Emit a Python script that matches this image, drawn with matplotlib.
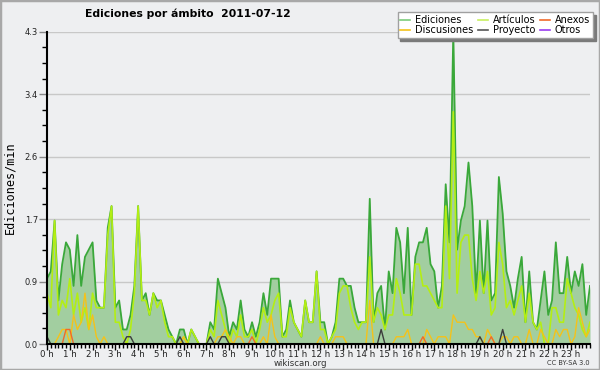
import numpy as np
import matplotlib
matplotlib.use("Agg")
import matplotlib.pyplot as plt
from matplotlib.patches import Rectangle
from matplotlib.lines import Line2D

# edits per minute, one value per 10 minutes (144 slots)
ediciones = [
    0.9, 1.0, 1.7, 0.6, 1.1, 1.4, 1.3, 0.8, 1.5, 0.8, 1.2, 1.3,
    1.4, 0.6, 0.5, 0.5, 1.6, 1.9, 0.5, 0.6, 0.2, 0.2, 0.4, 0.8,
    1.9, 0.6, 0.7, 0.4, 0.7, 0.6, 0.6, 0.4, 0.2, 0.1, 0.0, 0.2,
    0.2, 0.0, 0.2, 0.1, 0.0, 0.0, 0.0, 0.3, 0.2, 0.9, 0.7, 0.5,
    0.1, 0.3, 0.2, 0.6, 0.2, 0.1, 0.3, 0.1, 0.3, 0.7, 0.4, 0.9,
    0.9, 0.9, 0.1, 0.2, 0.6, 0.3, 0.2, 0.1, 0.6, 0.3, 0.3, 1.0,
    0.3, 0.3, 0.0, 0.1, 0.3, 0.9, 0.9, 0.8, 0.8, 0.5, 0.3, 0.3,
    0.3, 2.0, 0.3, 0.7, 0.8, 0.2, 1.0, 0.7, 1.6, 1.4, 0.7, 1.6,
    0.4, 1.2, 1.4, 1.4, 1.6, 1.1, 1.0, 0.5, 0.8, 2.2, 1.4, 4.3,
    1.3, 1.7, 1.9, 2.5, 1.9, 0.7, 1.7, 0.7, 1.7, 0.6, 0.7, 2.3,
    1.8, 1.0, 0.8, 0.5, 0.9, 1.2, 0.3, 1.0, 0.3, 0.2, 0.6, 1.0,
    0.4, 0.6, 1.4, 0.7, 0.7, 1.2, 0.7, 1.0, 0.8, 1.1, 0.4, 0.8,
]
articulos = [
    0.7, 0.5, 1.7, 0.4, 0.6, 0.5, 0.9, 0.4, 0.7, 0.3, 0.5, 0.2,
    0.7, 0.5, 0.5, 0.5, 1.5, 1.9, 0.3, 0.3, 0.1, 0.0, 0.2, 0.7,
    1.9, 0.6, 0.6, 0.4, 0.7, 0.5, 0.6, 0.3, 0.1, 0.1, 0.0, 0.0,
    0.1, 0.0, 0.2, 0.1, 0.0, 0.0, 0.0, 0.2, 0.1, 0.6, 0.4, 0.2,
    0.0, 0.2, 0.1, 0.4, 0.1, 0.1, 0.2, 0.0, 0.2, 0.5, 0.3, 0.4,
    0.6, 0.7, 0.1, 0.1, 0.5, 0.3, 0.2, 0.1, 0.6, 0.3, 0.3, 1.0,
    0.2, 0.2, 0.0, 0.1, 0.2, 0.7, 0.8, 0.8, 0.5, 0.3, 0.2, 0.3,
    0.3, 1.2, 0.3, 0.5, 0.4, 0.2, 0.4, 0.4, 0.9, 0.7, 0.4, 0.4,
    0.4, 1.1, 1.1, 0.8, 0.8, 0.7, 0.6, 0.5, 0.5, 1.9, 0.9, 3.2,
    0.7, 1.4, 1.5, 1.5, 0.9, 0.6, 1.0, 0.7, 1.0, 0.4, 0.5, 1.4,
    1.1, 0.5, 0.6, 0.4, 0.6, 0.8, 0.3, 0.7, 0.3, 0.2, 0.3, 0.0,
    0.0, 0.5, 0.5, 0.3, 0.3, 0.9, 0.7, 0.5, 0.4, 0.2, 0.1, 0.3,
]
discusiones = [
    0.0, 0.0, 0.0, 0.1, 0.2, 0.2, 0.0, 0.4, 0.2, 0.3, 0.7, 0.2,
    0.4, 0.1, 0.0, 0.1, 0.0, 0.0, 0.0, 0.0, 0.0, 0.0, 0.0, 0.0,
    0.0, 0.0, 0.0, 0.0, 0.0, 0.0, 0.0, 0.0, 0.0, 0.0, 0.0, 0.0,
    0.1, 0.0, 0.0, 0.0, 0.0, 0.0, 0.0, 0.0, 0.0, 0.1, 0.1, 0.2,
    0.1, 0.0, 0.1, 0.1, 0.0, 0.0, 0.0, 0.0, 0.0, 0.1, 0.0, 0.4,
    0.1, 0.0, 0.0, 0.0, 0.0, 0.0, 0.0, 0.0, 0.0, 0.0, 0.0, 0.0,
    0.1, 0.0, 0.0, 0.0, 0.1, 0.1, 0.1, 0.0, 0.0, 0.0, 0.0, 0.0,
    0.0, 0.6, 0.0, 0.0, 0.0, 0.0, 0.0, 0.0, 0.1, 0.1, 0.1, 0.2,
    0.0, 0.0, 0.0, 0.0, 0.2, 0.1, 0.0, 0.1, 0.1, 0.1, 0.0, 0.4,
    0.3, 0.3, 0.3, 0.2, 0.2, 0.1, 0.1, 0.0, 0.2, 0.1, 0.0, 0.0,
    0.1, 0.1, 0.0, 0.1, 0.1, 0.0, 0.0, 0.2, 0.0, 0.0, 0.2, 0.1,
    0.0, 0.0, 0.2, 0.1, 0.2, 0.2, 0.0, 0.1, 0.5, 0.3, 0.1, 0.2,
]
proyecto = [
    0.1, 0.0, 0.0, 0.0, 0.0, 0.0, 0.0, 0.0, 0.0, 0.0, 0.0, 0.0,
    0.0, 0.0, 0.0, 0.0, 0.0, 0.0, 0.0, 0.0, 0.0, 0.1, 0.1, 0.0,
    0.0, 0.0, 0.0, 0.0, 0.0, 0.0, 0.0, 0.0, 0.0, 0.0, 0.0, 0.1,
    0.0, 0.0, 0.0, 0.0, 0.0, 0.0, 0.0, 0.1, 0.0, 0.0, 0.1, 0.1,
    0.0, 0.0, 0.0, 0.0, 0.0, 0.0, 0.0, 0.0, 0.0, 0.0, 0.0, 0.0,
    0.0, 0.0, 0.0, 0.0, 0.0, 0.0, 0.0, 0.0, 0.0, 0.0, 0.0, 0.0,
    0.0, 0.0, 0.0, 0.0, 0.0, 0.0, 0.0, 0.0, 0.0, 0.0, 0.0, 0.0,
    0.0, 0.0, 0.0, 0.0, 0.2, 0.0, 0.0, 0.0, 0.0, 0.0, 0.0, 0.0,
    0.0, 0.0, 0.0, 0.0, 0.0, 0.0, 0.0, 0.0, 0.0, 0.0, 0.0, 0.0,
    0.0, 0.0, 0.0, 0.0, 0.0, 0.0, 0.1, 0.0, 0.0, 0.0, 0.0, 0.0,
    0.2, 0.0, 0.0, 0.0, 0.0, 0.0, 0.0, 0.0, 0.0, 0.0, 0.0, 0.0,
    0.0, 0.0, 0.0, 0.0, 0.0, 0.0, 0.0, 0.0, 0.0, 0.0, 0.0, 0.0,
]
anexos = [
    0.0, 0.0, 0.0, 0.0, 0.0, 0.2, 0.2, 0.0, 0.0, 0.0, 0.0, 0.0,
    0.0, 0.0, 0.0, 0.0, 0.0, 0.0, 0.0, 0.0, 0.0, 0.0, 0.0, 0.0,
    0.0, 0.0, 0.0, 0.0, 0.0, 0.0, 0.0, 0.0, 0.0, 0.0, 0.0, 0.0,
    0.0, 0.0, 0.0, 0.0, 0.0, 0.0, 0.0, 0.0, 0.0, 0.0, 0.0, 0.0,
    0.0, 0.0, 0.0, 0.0, 0.0, 0.0, 0.1, 0.0, 0.0, 0.0, 0.0, 0.0,
    0.0, 0.0, 0.0, 0.0, 0.0, 0.0, 0.0, 0.0, 0.0, 0.0, 0.0, 0.0,
    0.0, 0.0, 0.0, 0.0, 0.0, 0.0, 0.0, 0.0, 0.0, 0.0, 0.0, 0.0,
    0.0, 0.0, 0.0, 0.0, 0.0, 0.0, 0.0, 0.0, 0.0, 0.0, 0.0, 0.0,
    0.0, 0.0, 0.0, 0.1, 0.0, 0.0, 0.0, 0.0, 0.0, 0.0, 0.0, 0.0,
    0.0, 0.0, 0.0, 0.0, 0.0, 0.0, 0.0, 0.0, 0.0, 0.1, 0.0, 0.0,
    0.0, 0.0, 0.0, 0.0, 0.0, 0.0, 0.0, 0.0, 0.0, 0.0, 0.0, 0.0,
    0.0, 0.0, 0.0, 0.0, 0.0, 0.0, 0.0, 0.0, 0.0, 0.0, 0.0, 0.0,
]
otros = [0.0] * 144

hour_labels = ["{} h".format(h) for h in range(24)]
y_max = 4.3

BG = "#eeeff1"
GREEN = "#3aa83a"
GREEN_FILL = "#a2cea0"
LIME = "#b4ee14"
GOLD = "#f4c21a"
ANEX = "#f06a2a"
PROY = "#3c3c3c"
OTROS = "#9a3cf0"

fig = plt.figure(figsize=(6, 3.7), dpi=100, facecolor=BG)
ax = fig.add_axes([47 / 600, 1 - 344 / 370, 543 / 600, (344 - 31.8) / 370])
ax.set_facecolor(BG)

x = np.arange(len(ediciones))
ax.fill_between(x, 0, ediciones, color=GREEN_FILL, lw=0, zorder=2)
ax.plot(x, ediciones, color=GREEN, lw=1.3, zorder=3)
ax.plot(x, articulos, color=LIME, lw=1.2, zorder=4)
ax.plot(x, discusiones, color=GOLD, lw=1.0, zorder=5)
ax.plot(x, anexos, color=ANEX, lw=1.0, zorder=6)
ax.plot(x, proyecto, color=PROY, lw=1.0, zorder=6)
ax.plot(x, otros, color=OTROS, lw=0.0, zorder=1)

ax.set_xlim(0, 143)
ax.set_ylim(0, y_max)

yt = np.linspace(0, y_max, 6)
ax.set_yticks(yt)
ax.set_yticklabels(["{:.1f}".format(v) for v in yt])
ax.set_yticks(np.linspace(0, y_max, 21), minor=True)
ax.set_xticks(np.arange(0, 144, 6))
ax.set_xticklabels(hour_labels)
ax.set_xticks(np.arange(0, 144, 1), minor=True)

ax.grid(axis="y", color="#c8c8c8", lw=1.0, zorder=0)
for s in ["top", "right"]:
    ax.spines[s].set_visible(False)
for s in ["left", "bottom"]:
    ax.spines[s].set_linewidth(1.5)
    ax.spines[s].set_zorder(7)

ax.tick_params(axis="y", which="major", length=6, width=1, labelsize=6, pad=0.5, color="#888888")
ax.tick_params(axis="y", which="minor", length=3.5, width=1, color="black")
ax.tick_params(axis="x", which="major", length=4, width=1, labelsize=6.2, pad=0)
ax.tick_params(axis="x", which="minor", length=3, width=1)
for lab in ax.get_xticklabels() + ax.get_yticklabels():
    lab.set_color("#222222")

fig.text(188 / 600, 1 - 14 / 370, "Ediciones por ámbito  2011-07-12",
         ha="center", va="center", fontsize=7.8, fontweight="bold")
fig.text(10 / 600, 1 - 188 / 370, "Ediciones/min", rotation=90, ha="center",
         va="center", fontsize=8.5, family="DejaVu Sans Mono")
fig.text(300 / 600, 1 - 363 / 370, "wikiscan.org", ha="center", va="center", fontsize=6.2, color="#333333")
fig.text(590 / 600, 1 - 363 / 370, "CC BY-SA 3.0", ha="right", va="center", fontsize=4.8, color="#333333")

handles = [Line2D([], [], color=c, lw=1.2) for c in
           ["#7ccc7c", GOLD, "#c8f060", "#555555", ANEX, OTROS]]
labels = ["Ediciones", "Discusiones", "Artículos", "Proyecto", "Anexos", "Otros"]
leg = fig.legend(handles, labels, ncol=3, loc="upper right",
                 bbox_to_anchor=(593 / 600, 1 - 12 / 370), fontsize=7,
                 frameon=True, fancybox=False,
                 shadow={"color": "#7a7a7a", "alpha": 1},
                 edgecolor="#a0a0a0", facecolor="white", framealpha=1,
                 handlelength=1.0, handletextpad=0.5, columnspacing=0.5,
                 labelspacing=0.0, borderpad=0.3, borderaxespad=0)
leg.get_frame().set_linewidth(1.0)

fig.add_artist(Rectangle((0, 0), 1, 1, transform=fig.transFigure, fill=False,
                         edgecolor="#a8a8a8", lw=2.5))

fig.savefig("out.png", dpi=100, facecolor=BG)
